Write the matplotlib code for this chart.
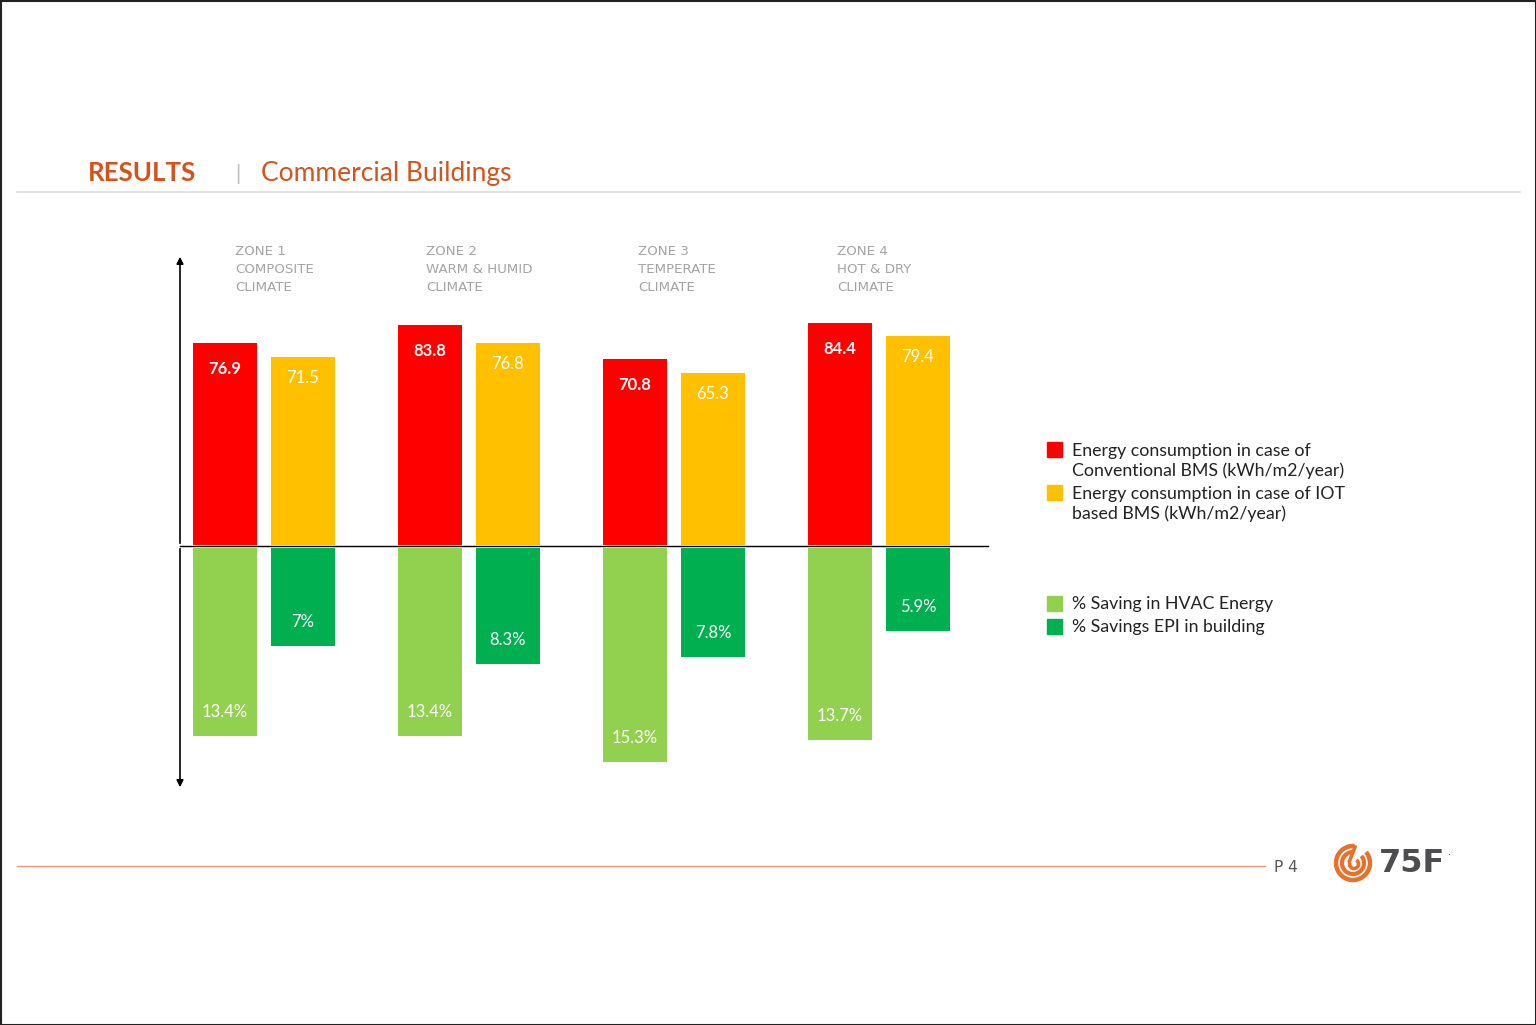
import matplotlib.pyplot as plt
import numpy as np
from matplotlib.patches import Rectangle, Arc

# data
zones = ['ZONE 1\nCOMPOSITE\nCLIMATE',
         'ZONE 2\nWARM & HUMID\nCLIMATE',
         'ZONE 3\nTEMPERATE\nCLIMATE',
         'ZONE 4\nHOT & DRY\nCLIMATE']
conventional_bms = [76.9, 83.8, 70.8, 84.4]
iot_bms = [71.5, 76.8, 65.3, 79.4]
hvac_saving = [13.4, 13.4, 15.3, 13.7]
epi_saving = [7, 8.3, 7.8, 5.9]
legend_labels = ['Energy consumption in case of\nConventional BMS (kWh/m2/year)',
                 'Energy consumption in case of IOT\nbased BMS (kWh/m2/year)',
                 '% Saving in HVAC Energy',
                 '% Savings EPI in building']

RED = '#FF0000'
YELLOW = '#FFC000'
LGREEN = '#92D050'
GREEN = '#00B050'
ORANGE = '#D4531C'

W, H = 1536, 1025
fig = plt.figure(figsize=(W / 100, H / 100), dpi=100)


def px_axes(x0, y0, x1, y1):
    # axes from pixel box (top-left origin)
    return fig.add_axes([x0 / W, 1 - y1 / H, (x1 - x0) / W, (y1 - y0) / H])


# overlay for decorations
ov = px_axes(0, 0, W, H)
ov.set_xlim(0, W)
ov.set_ylim(H, 0)
ov.axis('off')
ov.add_patch(Rectangle((0.5, 0.5), W - 1, H - 1, fill=False, ec='#222222', lw=1.5))

# header
ov.text(88, 173, 'RESULTS', fontsize=18.6, fontweight='bold', color=ORANGE,
        va='center', family='Lato')
ov.text(235, 174, '|', fontsize=15, color='#bbbbbb', va='center', family='Lato')
ov.text(261, 173, 'Commercial Buildings', fontsize=19, color=ORANGE,
        va='center', family='Lato')
ov.plot([17, 1520], [192, 192], color='#dddddd', lw=1.2)

# footer
ov.plot([17, 1265], [866, 866], color='#E8957A', lw=1)
ov.text(1274, 867, 'P 4', fontsize=11, color='#555555', va='center', family='DejaVu Sans')
cx, cy = 1353, 863
for r, lw in [(17, 3.2), (11, 3.0)]:
    ov.add_patch(Arc((cx, cy), 2 * r, 2 * r, theta1=-40, theta2=275,
                     color='#E8702A', lw=lw))
ov.add_patch(Arc((cx + 1, cy + 1), 9, 9, theta1=-60, theta2=200, color='#E8702A', lw=2.6))
ov.plot([cx - 3.5, cx + 2], [cy - 2, cy - 16], color='#E8702A', lw=2.6)
ov.text(1379, 864, '75F', fontsize=23, fontweight='bold', color='#4d4d4f',
        va='center', family='DejaVu Sans')
ov.text(1448, 852, '.', fontsize=7, color='#4d4d4f', va='center')

# axis arrows and baseline
ov.annotate('', xy=(180, 254), xytext=(180, 546),
            arrowprops=dict(arrowstyle='-|>', color='black', lw=1.2, mutation_scale=10))
ov.annotate('', xy=(180, 790), xytext=(180, 546),
            arrowprops=dict(arrowstyle='-|>', color='black', lw=1.2, mutation_scale=10))
ov.plot([180, 988], [546, 546], color='black', lw=1)

# zone titles
zone_x = [235, 426, 638, 837]
for zx, z in zip(zone_x, zones):
    ov.text(zx, 245, z, ha='left', va='top', color='#a3a3a3', fontsize=9.6,
            linespacing=1.5, family='DejaVu Sans')

x = np.arange(len(zones))
bw = 0.312
off = 0.19
xlim = (-0.41, 3.532)

# energy bars (upwards)
ax_top = px_axes(180, 258, 988, 545)
ax_top.set_xlim(*xlim)
ax_top.set_ylim(0, 287 / 2.63)
ax_top.axis('off')
ax_top.bar(x - off, conventional_bms, width=bw, color=RED)
ax_top.bar(x + off, iot_bms, width=bw, color=YELLOW)
for xi, v in zip(x - off, conventional_bms):
    ax_top.annotate(f'{v:g}', (xi, v), xytext=(0, -26), textcoords='offset pixels',
                    ha='center', va='center', color='white', fontsize=12,
                    fontweight='bold', family='Lato')
for xi, v in zip(x + off, iot_bms):
    ax_top.annotate(f'{v:g}', (xi, v), xytext=(0, -21), textcoords='offset pixels',
                    ha='center', va='center', color='white', fontsize=12, family='Lato')

# savings bars (downwards)
ax_bot = px_axes(180, 548, 988, 787)
ax_bot.set_xlim(*xlim)
ax_bot.set_ylim(239 / 14, 0)
ax_bot.axis('off')
ax_bot.bar(x - off, hvac_saving, width=bw, color=LGREEN)
ax_bot.bar(x + off, epi_saving, width=bw, color=GREEN)
for xs, vals in [(x - off, hvac_saving), (x + off, epi_saving)]:
    for xi, v in zip(xs, vals):
        ax_bot.annotate(f'{v:g}%', (xi, v), xytext=(0, 24), textcoords='offset pixels',
                        ha='center', va='center', color='white', fontsize=12, family='Lato')

# legend
leg_colors = [RED, YELLOW, LGREEN, GREEN]
leg_rows = [450, 493, 604, 627]
for c, lab, y in zip(leg_colors, legend_labels, leg_rows):
    ov.add_patch(Rectangle((1047, y - 8), 15, 15, color=c))
    n = lab.count('\n')
    ov.text(1072, y + n * 11, lab, fontsize=12.8, color='#222222', va='center',
            linespacing=1.3, family='Lato')

fig.savefig('out.png', dpi=100)
